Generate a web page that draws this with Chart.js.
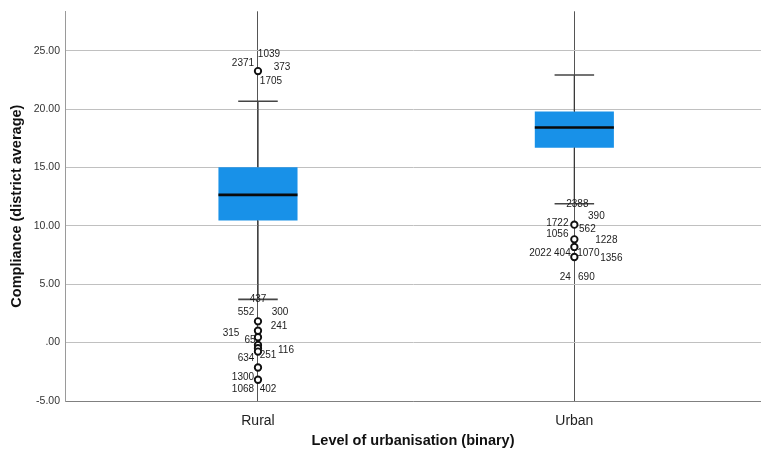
<!DOCTYPE html>
<html>
<head>
<meta charset="utf-8">
<script src="https://cdn.jsdelivr.net/npm/chart.js@4.4.1/dist/chart.umd.min.js"></script>
<style>
  html, body { margin: 0; padding: 0; background: #ffffff; }
  #wrap { width: 761px; height: 454px; }
</style>
</head>
<body>
<div id="wrap"><canvas id="chart" width="761" height="454"></canvas></div>
<script>
// Compliance by level of urbanisation: box plot summaries per group
const categories = ['Rural', 'Urban'];
const lowerWhisker = [3.70, 11.89];
const quartile1 = [10.46, 16.69];
const medians = [12.65, 18.42];
const quartile3 = [15.01, 19.78];
const upperWhisker = [20.67, 22.91];

// Outlying districts (compliance values)
const ruralOutliers = [23.25, 1.82, 1.02, 0.46, -0.20, -0.48, -0.77, -2.13, -3.18];
const urbanOutliers = [10.10, 8.84, 8.19, 7.33];

// Case numbers printed next to the outliers
const ruralCaseIds = ['1039', '2371', '373', '1705', '437', '552', '300', '241', '315', '65', '116', '251', '634', '1300', '1068', '402'];
const urbanCaseIds = ['2388', '390', '1722', '562', '1056', '1228', '2022', '404', '1070', '1356', '24', '690'];

// Y axis ticks
const yTicks = [-5, 0, 5, 10, 15, 20, 25];
const yTickLabels = ['-5.00', '.00', '5.00', '10.00', '15.00', '20.00', '25.00'];

// Placement of the case-number text: [horizontal shift in px, height on the y axis]
const ruralIdPlacement = [[11, 24.73], [-15, 23.96], [24, 23.62], [13, 22.40], [0, 3.70], [-12, 2.59], [22, 2.64], [21, 1.36], [-27, 0.80], [-8, 0.23], [28, -0.68], [10, -1.07], [-12, -1.36], [-15, -2.98], [-15, -4.03], [10, -4.03]];
const urbanIdPlacement = [[3, 11.83], [22, 10.83], [-17, 10.18], [13, 9.70], [-17, 9.24], [32, 8.76], [-34, 7.67], [-12, 7.67], [14, 7.67], [37, 7.25], [-9, 5.58], [12, 5.58]];

const FONT = "'Liberation Sans', Arial, Helvetica, sans-serif";
Chart.defaults.font.family = FONT;

const xPos = categories.map((_, i) => i + 1);
const BOX_HALF = 0.125;
const CAP_HALF = 0.0625;

// whisker segments, caps and medians as broken polylines (null breaks a segment)
const whiskerPts = [];
const capPts = [];
const medianPts = [];
categories.forEach((_, i) => {
  const x = xPos[i];
  whiskerPts.push({ x, y: quartile3[i] }, { x, y: upperWhisker[i] }, { x, y: null });
  whiskerPts.push({ x, y: quartile1[i] }, { x, y: lowerWhisker[i] }, { x, y: null });
  capPts.push({ x: x - CAP_HALF, y: upperWhisker[i] }, { x: x + CAP_HALF, y: upperWhisker[i] }, { x, y: null });
  capPts.push({ x: x - CAP_HALF, y: lowerWhisker[i] }, { x: x + CAP_HALF, y: lowerWhisker[i] }, { x, y: null });
  medianPts.push({ x: x - BOX_HALF, y: medians[i] }, { x: x + BOX_HALF, y: medians[i] }, { x, y: null });
});

const outlierPts = [
  ...ruralOutliers.map(v => ({ x: xPos[0], y: v })),
  ...urbanOutliers.map(v => ({ x: xPos[1], y: v }))
];

const idGroups = [
  { x: xPos[0], ids: ruralCaseIds, place: ruralIdPlacement },
  { x: xPos[1], ids: urbanCaseIds, place: urbanIdPlacement }
];

const caseIdPlugin = {
  id: 'caseIds',
  afterDatasetsDraw(chart) {
    const { ctx, scales } = chart;
    ctx.save();
    ctx.font = '10px ' + FONT;
    ctx.fillStyle = '#1c1c1c';
    ctx.textAlign = 'center';
    ctx.textBaseline = 'middle';
    idGroups.forEach(g => {
      const cx = scales.x.getPixelForValue(g.x);
      g.ids.forEach((id, k) => {
        const [dx, yv] = g.place[k];
        ctx.fillText(id, cx + dx, scales.y.getPixelForValue(yv));
      });
    });
    ctx.restore();
  }
};

new Chart(document.getElementById('chart'), {
  type: 'bar',
  data: {
    datasets: [
      {
        type: 'bar',
        data: categories.map((_, i) => ({ x: xPos[i], y: [quartile1[i], quartile3[i]] })),
        backgroundColor: '#1891e8',
        borderWidth: 0,
        categoryPercentage: 1,
        barPercentage: 0.25,
        order: 4
      },
      {
        type: 'line',
        data: whiskerPts,
        borderColor: '#3a3a3a',
        borderWidth: 1.3,
        pointRadius: 0,
        spanGaps: false,
        order: 3
      },
      {
        type: 'line',
        data: capPts,
        borderColor: '#454545',
        borderWidth: 1.6,
        pointRadius: 0,
        spanGaps: false,
        order: 2
      },
      {
        type: 'line',
        data: medianPts,
        borderColor: '#0a0a0a',
        borderWidth: 2.6,
        pointRadius: 0,
        spanGaps: false,
        order: 1
      },
      {
        type: 'scatter',
        data: outlierPts,
        pointRadius: 3.2,
        pointBorderWidth: 1.9,
        pointBorderColor: '#111111',
        pointBackgroundColor: '#ffffff',
        order: 0
      }
    ]
  },
  options: {
    responsive: false,
    animation: false,
    layout: { autoPadding: false, padding: { left: 0, right: 0, top: 10, bottom: 0 } },
    plugins: { legend: { display: false }, tooltip: { enabled: false } },
    scales: {
      x: {
        type: 'linear',
        min: 0.39,
        max: 2.59,
        offset: false,
        afterBuildTicks: s => { s.ticks = xPos.map(v => ({ value: v })); },
        afterFit: s => { s.height = 53; s.paddingLeft = 0; s.paddingRight = 0; },
        ticks: {
          callback: v => categories[xPos.indexOf(v)],
          autoSkip: false,
          maxRotation: 0,
          font: { size: 14 },
          color: '#222222',
          padding: 12
        },
        grid: { color: '#555555', drawTicks: false, offset: false, lineWidth: 1 },
        border: { color: '#808080', width: 1 },
        title: {
          display: true,
          text: 'Level of urbanisation (binary)',
          font: { size: 14.5, weight: 'bold' },
          color: '#111111',
          padding: { top: 0, bottom: 4 }
        }
      },
      y: {
        type: 'linear',
        min: -5,
        max: 28.37,
        afterBuildTicks: s => { s.ticks = yTicks.map(v => ({ value: v })); },
        afterFit: s => { s.width = 65; },
        ticks: {
          callback: v => yTickLabels[yTicks.indexOf(v)],
          font: { size: 10.5 },
          color: '#333333',
          padding: 5
        },
        grid: { color: '#c0c0c0', drawTicks: false, lineWidth: 1 },
        border: { color: '#9a9a9a', width: 1 },
        title: {
          display: true,
          text: 'Compliance (district average)',
          font: { size: 14.5, weight: 'bold' },
          color: '#111111',
          padding: { top: 8, bottom: 0 }
        }
      }
    }
  },
  plugins: [caseIdPlugin]
});
</script>
</body>
</html>
